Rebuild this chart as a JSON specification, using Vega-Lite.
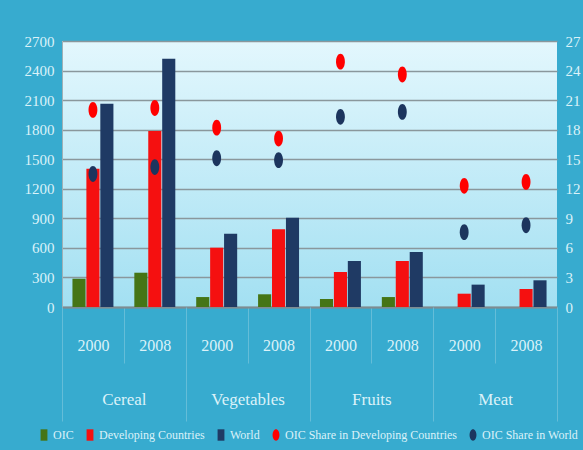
{
  "$schema": "https://vega.github.io/schema/vega-lite/v6.json",
  "width": 495,
  "height": 266,
  "autosize": "none",
  "padding": {"left": 62, "top": 41, "right": 26, "bottom": 143},
  "background": "#37abcf",
  "config": {
    "view": {
      "fill": {"gradient": "linear", "x1": 0, "y1": 0, "x2": 0, "y2": 1,
        "stops": [{"offset": 0, "color": "#e3f7fd"}, {"offset": 1, "color": "#a3e0f2"}]},
      "stroke": null
    },
    "font": "Liberation Serif",
    "axis": {"labelFont": "Liberation Serif", "labelColor": "#dbf2f9", "labelFontSize": 15},
    "legend": {"labelFont": "Liberation Serif"}
  },
  "datasets": {
    "bars": [
      {"period": "Cereal 2000", "series": "OIC", "value": 287},
      {"period": "Cereal 2000", "series": "Developing Countries", "value": 1404},
      {"period": "Cereal 2000", "series": "World", "value": 2064},
      {"period": "Cereal 2008", "series": "OIC", "value": 348},
      {"period": "Cereal 2008", "series": "Developing Countries", "value": 1786},
      {"period": "Cereal 2008", "series": "World", "value": 2520},
      {"period": "Vegetables 2000", "series": "OIC", "value": 101},
      {"period": "Vegetables 2000", "series": "Developing Countries", "value": 602},
      {"period": "Vegetables 2000", "series": "World", "value": 744},
      {"period": "Vegetables 2008", "series": "OIC", "value": 129},
      {"period": "Vegetables 2008", "series": "Developing Countries", "value": 788},
      {"period": "Vegetables 2008", "series": "World", "value": 907},
      {"period": "Fruits 2000", "series": "OIC", "value": 81},
      {"period": "Fruits 2000", "series": "Developing Countries", "value": 355},
      {"period": "Fruits 2000", "series": "World", "value": 467},
      {"period": "Fruits 2008", "series": "OIC", "value": 101},
      {"period": "Fruits 2008", "series": "Developing Countries", "value": 467},
      {"period": "Fruits 2008", "series": "World", "value": 558},
      {"period": "Meat 2000", "series": "OIC", "value": 0},
      {"period": "Meat 2000", "series": "Developing Countries", "value": 135},
      {"period": "Meat 2000", "series": "World", "value": 227},
      {"period": "Meat 2008", "series": "OIC", "value": 0},
      {"period": "Meat 2008", "series": "Developing Countries", "value": 183},
      {"period": "Meat 2008", "series": "World", "value": 271}
    ],
    "shares": [
      {"period": "Cereal 2000", "series": "OIC Share in Developing Countries", "value": 20.0},
      {"period": "Cereal 2000", "series": "OIC Share in World", "value": 13.5},
      {"period": "Cereal 2008", "series": "OIC Share in Developing Countries", "value": 20.2},
      {"period": "Cereal 2008", "series": "OIC Share in World", "value": 14.2},
      {"period": "Vegetables 2000", "series": "OIC Share in Developing Countries", "value": 18.2},
      {"period": "Vegetables 2000", "series": "OIC Share in World", "value": 15.1},
      {"period": "Vegetables 2008", "series": "OIC Share in Developing Countries", "value": 17.1},
      {"period": "Vegetables 2008", "series": "OIC Share in World", "value": 14.9},
      {"period": "Fruits 2000", "series": "OIC Share in Developing Countries", "value": 24.9},
      {"period": "Fruits 2000", "series": "OIC Share in World", "value": 19.3},
      {"period": "Fruits 2008", "series": "OIC Share in Developing Countries", "value": 23.6},
      {"period": "Fruits 2008", "series": "OIC Share in World", "value": 19.8},
      {"period": "Meat 2000", "series": "OIC Share in Developing Countries", "value": 12.3},
      {"period": "Meat 2000", "series": "OIC Share in World", "value": 7.6},
      {"period": "Meat 2008", "series": "OIC Share in Developing Countries", "value": 12.7},
      {"period": "Meat 2008", "series": "OIC Share in World", "value": 8.3}
    ],
    "cats": [
      {"category": "Cereal"},
      {"category": "Vegetables"},
      {"category": "Fruits"},
      {"category": "Meat"}
    ]
  },
  "layer": [
    {
      "data": {"name": "bars"},
      "mark": {"type": "bar"},
      "encoding": {
        "x": {
          "field": "period", "type": "nominal", "title": null,
          "scale": {"domain": ["Cereal 2000", "Cereal 2008", "Vegetables 2000", "Vegetables 2008", "Fruits 2000", "Fruits 2008", "Meat 2000", "Meat 2008"], "paddingInner": 0, "paddingOuter": 0},
          "axis": {"orient": "bottom", "labelExpr": "split(datum.value, ' ')[1]", "labelAngle": 0, "tickBand": "extent", "tickSize": 56, "tickColor": "#64bdd8", "tickWidth": 1, "labelPadding": -26, "domain": true, "domainColor": "#7d8c92", "domainWidth": 2, "grid": false, "labelFontSize": 16}
        },
        "xOffset": {"field": "series", "type": "nominal", "scale": {"domain": ["OIC", "Developing Countries", "World"], "paddingInner": 0.06, "paddingOuter": 0.75}},
        "y": {
          "field": "value", "type": "quantitative", "title": null,
          "scale": {"domain": [0, 2700], "nice": false},
          "axis": {"orient": "left", "format": "d", "values": [0, 300, 600, 900, 1200, 1500, 1800, 2100, 2400, 2700], "grid": true, "gridColor": "#8a979c", "gridWidth": 1.5, "ticks": false, "domain": true, "domainColor": "#9fb0b6", "labelPadding": 8}
        },
        "color": {
          "field": "series", "type": "nominal",
          "scale": {"domain": ["OIC", "Developing Countries", "World", "OIC Share in Developing Countries", "OIC Share in World"], "range": ["#457516", "#f51010", "#1f3a64", "#ff0000", "#1c355e"]},
          "legend": {"title": null, "orient": "none", "legendX": -24, "legendY": 388, "direction": "horizontal", "labelFont": "Liberation Serif", "labelFontSize": 12, "labelLimit": 300, "labelColor": "#dbf2f9", "symbolSize": 130, "symbolStrokeWidth": 0, "columnPadding": 10, "labelOffset": 3,
            "encode": {"symbols": {"update": {"shape": {"signal": "indexof(datum.value, 'Share') >= 0 ? 'M0,-1A0.6,1,0,1,1,0,1A0.6,1,0,1,1,0,-1Z' : 'M-0.6,-1H0.6V1H-0.6Z'"}}}}}
        }
      }
    },
    {
      "data": {"name": "shares"},
      "mark": {"type": "point", "filled": true, "size": 250, "opacity": 1, "shape": "M0,-1A0.56,1,0,1,1,0,1A0.56,1,0,1,1,0,-1Z"},
      "encoding": {
        "x": {
          "field": "period", "type": "nominal", "title": null,
          "scale": {"domain": ["Cereal 2000", "Cereal 2008", "Vegetables 2000", "Vegetables 2008", "Fruits 2000", "Fruits 2008", "Meat 2000", "Meat 2008"], "paddingInner": 0, "paddingOuter": 0},
          "axis": null
        },
        "y": {
          "field": "value", "type": "quantitative", "title": null,
          "scale": {"domain": [0, 27], "nice": false},
          "axis": {"orient": "right", "values": [0, 3, 6, 9, 12, 15, 18, 21, 24, 27], "grid": false, "ticks": false, "domain": false, "labelPadding": 8}
        },
        "color": {
          "field": "series", "type": "nominal",
          "scale": {"domain": ["OIC", "Developing Countries", "World", "OIC Share in Developing Countries", "OIC Share in World"], "range": ["#457516", "#f51010", "#1f3a64", "#ff0000", "#1c355e"]},
          "legend": {"title": null, "orient": "none", "legendX": -24, "legendY": 388, "direction": "horizontal", "labelFont": "Liberation Serif", "labelFontSize": 12, "labelLimit": 300, "labelColor": "#dbf2f9", "symbolSize": 130, "symbolStrokeWidth": 0, "columnPadding": 10, "labelOffset": 3,
            "encode": {"symbols": {"update": {"shape": {"signal": "indexof(datum.value, 'Share') >= 0 ? 'M0,-1A0.6,1,0,1,1,0,1A0.6,1,0,1,1,0,-1Z' : 'M-0.6,-1H0.6V1H-0.6Z'"}}}}}
        }
      }
    },
    {
      "data": {"name": "cats"},
      "mark": {"type": "point", "opacity": 0},
      "encoding": {
        "x": {
          "field": "category", "type": "nominal", "title": null, "sort": null,
          "scale": {"domain": ["Cereal", "Vegetables", "Fruits", "Meat"], "paddingInner": 0, "paddingOuter": 0},
          "axis": {"orient": "bottom", "labelAngle": 0, "tickBand": "extent", "tickSize": 114, "tickColor": "#64bdd8", "tickWidth": 1, "labelPadding": -30, "domain": false, "grid": false, "labelFontSize": 17}
        }
      }
    }
  ],
  "resolve": {"scale": {"x": "independent", "y": "independent"}, "axis": {"x": "independent", "y": "independent"}}
}
